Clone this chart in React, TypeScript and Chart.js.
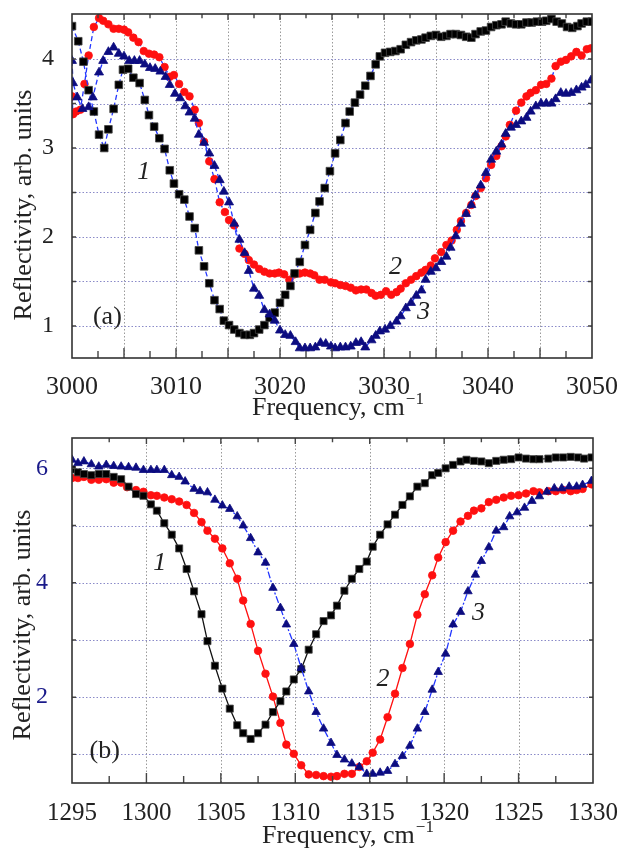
import React, { useEffect, useRef } from "react";
import { Chart, registerables } from "chart.js";

Chart.register(...registerables);

type P = [number, number];

// ---------- Panel (a): 3000–3050 cm^-1 ----------
const seriesA1: P[] = [
  [3000.0,4.37],[3000.6,4.20],[3001.1,3.97],[3001.6,3.65],[3002.1,3.41],[3002.6,3.15],[3003.1,3.00],[3003.5,3.21],[3004.0,3.44],[3004.5,3.71],
  [3004.9,3.88],[3005.4,3.89],[3005.9,3.79],[3006.5,3.73],[3007.0,3.54],[3007.4,3.37],[3007.9,3.24],[3008.4,3.11],[3008.9,2.99],[3009.4,2.75],
  [3009.8,2.60],[3010.3,2.48],[3010.8,2.42],[3011.3,2.23],[3011.8,2.10],[3012.2,1.85],[3012.7,1.67],[3013.2,1.48],[3013.7,1.29],[3014.2,1.19],
  [3014.6,1.06],[3015.1,1.01],[3015.6,0.96],[3016.1,0.92],[3016.6,0.90],[3017.1,0.90],[3017.5,0.92],[3018.0,0.96],[3018.5,1.01],[3019.0,1.09],
  [3019.5,1.15],[3020.0,1.26],[3020.5,1.35],[3021.0,1.45],[3021.4,1.59],[3021.9,1.72],[3022.4,1.91],[3022.9,2.08],[3023.4,2.27],[3023.8,2.40],
  [3024.3,2.55],[3024.8,2.74],[3025.3,2.94],[3025.8,3.09],[3026.3,3.28],[3026.7,3.41],[3027.2,3.51],[3027.7,3.60],[3028.2,3.70],[3028.7,3.81],
  [3029.2,3.94],[3029.6,4.03],[3030.1,4.07],[3030.6,4.08],[3031.1,4.09],[3031.6,4.11],[3032.1,4.16],[3032.6,4.19],[3033.1,4.21],[3033.6,4.22],
  [3034.0,4.24],[3034.5,4.26],[3035.0,4.27],[3035.5,4.25],[3036.0,4.26],[3036.4,4.28],[3036.9,4.28],[3037.4,4.27],[3037.9,4.25],[3038.4,4.24],
  [3038.8,4.28],[3039.3,4.31],[3039.8,4.32],[3040.3,4.36],[3040.8,4.38],[3041.3,4.39],[3041.7,4.42],[3042.2,4.40],[3042.7,4.39],[3043.2,4.39],
  [3043.7,4.41],[3044.2,4.41],[3044.7,4.42],[3045.2,4.42],[3045.6,4.43],[3046.1,4.45],[3046.6,4.42],[3047.1,4.40],[3047.6,4.36],[3048.1,4.35],
  [3048.6,4.37],[3049.0,4.40],[3049.5,4.42],[3050.0,4.42],
];
const seriesA2: P[] = [
  [3000.0,3.58],[3000.1,3.38],[3000.4,3.41],[3000.8,3.43],[3001.2,3.72],[3001.6,4.04],[3002.1,4.36],[3002.6,4.46],[3003.0,4.43],[3003.5,4.39],
  [3004.0,4.34],[3004.5,4.34],[3005.0,4.33],[3005.4,4.30],[3005.9,4.24],[3006.4,4.19],[3006.9,4.09],[3007.4,4.06],[3007.9,4.05],[3008.4,4.02],
  [3008.9,3.91],[3009.4,3.80],[3009.8,3.82],[3010.3,3.72],[3010.8,3.63],[3011.3,3.58],[3011.8,3.43],[3012.2,3.28],[3012.7,3.07],[3013.2,2.85],
  [3013.7,2.65],[3014.2,2.39],[3014.7,2.28],[3015.1,2.19],[3015.6,2.13],[3016.1,1.87],[3016.6,1.81],[3017.0,1.74],[3017.5,1.69],[3018.0,1.64],
  [3018.5,1.61],[3019.0,1.59],[3019.5,1.59],[3019.9,1.60],[3020.4,1.58],[3020.9,1.52],[3021.4,1.58],[3021.9,1.59],[3022.4,1.60],[3022.9,1.59],
  [3023.3,1.57],[3023.8,1.52],[3024.3,1.52],[3024.9,1.49],[3025.3,1.48],[3025.8,1.46],[3026.3,1.45],[3026.8,1.43],[3027.3,1.40],[3027.8,1.41],
  [3028.3,1.41],[3028.8,1.37],[3029.2,1.34],[3029.7,1.35],[3030.2,1.39],[3030.7,1.35],[3031.2,1.38],[3031.6,1.42],[3032.1,1.48],[3032.6,1.52],
  [3033.1,1.56],[3033.6,1.60],[3034.0,1.63],[3034.5,1.68],[3034.9,1.76],[3035.5,1.83],[3036.0,1.91],[3036.5,1.96],[3037.0,2.08],[3037.4,2.18],
  [3037.9,2.27],[3038.4,2.36],[3038.8,2.46],[3039.3,2.55],[3039.8,2.66],[3040.3,2.81],[3040.8,2.91],[3041.3,3.02],[3041.7,3.13],[3042.1,3.26],
  [3042.7,3.42],[3043.2,3.51],[3043.7,3.58],[3044.1,3.62],[3044.6,3.65],[3045.1,3.71],[3045.6,3.72],[3046.1,3.78],[3046.5,3.92],[3047.0,3.97],
  [3047.5,3.99],[3048.0,4.03],[3048.5,4.08],[3049.0,4.04],[3049.5,4.11],[3049.9,4.12],
];
const seriesA3: P[] = [
  [3000.0,3.98],[3000.1,3.73],[3000.5,3.57],[3001.0,3.44],[3001.6,3.46],[3002.0,3.57],[3002.6,3.85],[3003.0,3.98],[3003.5,4.08],[3004.0,4.13],
  [3004.5,4.06],[3005.0,4.03],[3005.5,3.98],[3006.0,3.98],[3006.5,3.98],[3007.0,3.94],[3007.5,3.90],[3008.0,3.89],[3008.5,3.86],[3009.0,3.80],
  [3009.4,3.71],[3009.9,3.61],[3010.4,3.56],[3010.9,3.47],[3011.3,3.40],[3011.8,3.33],[3012.2,3.15],[3012.7,3.06],[3013.2,2.94],[3013.7,2.80],
  [3014.2,2.64],[3014.6,2.51],[3015.1,2.39],[3015.6,2.15],[3016.1,1.97],[3016.6,1.82],[3017.0,1.62],[3017.5,1.42],[3018.0,1.34],[3018.5,1.18],
  [3019.0,1.13],[3019.5,1.06],[3020.0,0.95],[3020.5,0.90],[3021.0,0.89],[3021.5,0.82],[3021.9,0.75],[3022.4,0.75],[3022.9,0.75],[3023.4,0.76],
  [3023.9,0.81],[3024.4,0.80],[3024.9,0.77],[3025.3,0.75],[3025.8,0.76],[3026.3,0.76],[3026.8,0.77],[3027.3,0.81],[3027.8,0.82],[3028.2,0.76],
  [3028.8,0.84],[3029.2,0.89],[3029.6,0.94],[3030.1,0.96],[3030.6,1.00],[3031.2,1.05],[3031.6,1.11],[3032.1,1.20],[3032.6,1.26],[3033.1,1.34],
  [3033.6,1.40],[3034.0,1.52],[3034.5,1.61],[3035.0,1.65],[3035.5,1.72],[3036.0,1.78],[3036.4,1.88],[3036.9,2.01],[3037.4,2.15],[3037.9,2.26],
  [3038.4,2.36],[3038.8,2.47],[3039.3,2.58],[3039.8,2.72],[3040.3,2.87],[3040.8,2.96],[3041.3,3.04],[3041.7,3.16],[3042.2,3.23],[3042.7,3.26],
  [3043.2,3.30],[3043.7,3.34],[3044.1,3.41],[3044.6,3.47],[3045.1,3.50],[3045.6,3.50],[3046.1,3.50],[3046.5,3.55],[3047.0,3.62],[3047.5,3.61],
  [3048.0,3.62],[3048.5,3.65],[3049.0,3.68],[3049.4,3.71],[3049.9,3.76],
];
const xLabelTicksA = [3000, 3010, 3020, 3030, 3040, 3050];
const xGridA = [3005, 3010, 3015, 3020, 3025, 3030, 3035, 3040, 3045];
const xMinorA = [3002.5, 3005, 3007.5, 3010, 3012.5, 3015, 3017.5, 3020, 3022.5, 3025, 3027.5, 3030, 3032.5, 3035, 3037.5, 3040, 3042.5, 3045, 3047.5];
const yLabelTicksA = [1, 2, 3, 4];
const yGridA = [1, 1.5, 2, 2.5, 3, 3.5, 4];
const notesA = [
  { text: "1", x: 3006.9, y: 2.73, italic: true },
  { text: "2", x: 3031.1, y: 1.66, italic: true },
  { text: "3", x: 3033.8, y: 1.15, italic: true },
  { text: "(a)", x: 3003.4, y: 1.1, italic: false },
];

// ---------- Panel (b): 1295–1330 cm^-1 ----------
const seriesB1: P[] = [
  [1295.0,5.98],[1295.4,5.93],[1295.8,5.90],[1296.3,5.88],[1296.8,5.90],[1297.3,5.90],[1297.8,5.85],[1298.3,5.81],[1298.8,5.68],[1299.3,5.55],
  [1299.8,5.52],[1300.3,5.37],[1300.7,5.26],[1301.2,5.04],[1301.7,4.84],[1302.2,4.60],[1302.7,4.24],[1303.2,3.85],[1303.7,3.45],[1304.1,2.98],
  [1304.6,2.55],[1305.1,2.15],[1305.6,1.80],[1306.1,1.51],[1306.5,1.37],[1307.0,1.27],[1307.5,1.37],[1308.0,1.52],[1308.5,1.74],[1309.0,1.93],
  [1309.4,2.10],[1309.9,2.31],[1310.4,2.49],[1310.9,2.83],[1311.4,3.10],[1311.9,3.33],[1312.4,3.43],[1312.8,3.60],[1313.3,3.86],[1313.8,4.07],
  [1314.3,4.24],[1314.8,4.37],[1315.2,4.63],[1315.7,4.84],[1316.2,5.02],[1316.7,5.19],[1317.2,5.36],[1317.7,5.51],[1318.2,5.68],[1318.7,5.74],
  [1319.2,5.88],[1319.6,5.92],[1320.1,6.00],[1320.6,6.06],[1321.1,6.12],[1321.5,6.15],[1322.0,6.13],[1322.5,6.12],[1323.0,6.09],[1323.5,6.13],
  [1324.0,6.15],[1324.5,6.16],[1325.0,6.19],[1325.5,6.17],[1326.0,6.16],[1326.4,6.16],[1327.0,6.17],[1327.5,6.19],[1328.0,6.19],[1328.5,6.20],
  [1329.0,6.19],[1329.4,6.17],[1329.9,6.19],
];
const seriesB2: P[] = [
  [1295.0,5.83],[1295.4,5.83],[1295.8,5.85],[1296.3,5.80],[1296.8,5.80],[1297.3,5.81],[1297.8,5.75],[1298.3,5.75],[1298.7,5.67],[1299.3,5.62],
  [1299.8,5.59],[1300.3,5.53],[1300.7,5.52],[1301.2,5.49],[1301.7,5.46],[1302.2,5.42],[1302.7,5.36],[1303.2,5.22],[1303.7,5.06],[1304.1,4.91],
  [1304.6,4.77],[1305.1,4.60],[1305.6,4.34],[1306.1,4.07],[1306.5,3.69],[1307.0,3.28],[1307.5,2.81],[1308.0,2.41],[1308.5,2.01],[1309.0,1.55],
  [1309.4,1.17],[1309.9,1.01],[1310.4,0.81],[1310.9,0.65],[1311.4,0.64],[1311.9,0.62],[1312.4,0.61],[1312.8,0.62],[1313.3,0.66],[1313.8,0.66],
  [1314.3,0.78],[1314.8,0.88],[1315.2,1.03],[1315.7,1.26],[1316.2,1.65],[1316.7,2.06],[1317.2,2.51],[1317.7,2.93],[1318.2,3.44],[1318.7,3.80],
  [1319.2,4.13],[1319.6,4.44],[1320.1,4.71],[1320.6,4.91],[1321.1,5.07],[1321.6,5.17],[1322.0,5.26],[1322.5,5.30],[1323.0,5.41],[1323.5,5.45],
  [1324.0,5.49],[1324.5,5.52],[1325.0,5.53],[1325.5,5.56],[1326.0,5.60],[1326.4,5.58],[1327.0,5.60],[1327.5,5.60],[1328.0,5.62],[1328.5,5.60],
  [1328.9,5.62],[1329.3,5.64],[1329.9,5.72],
];
const seriesB3: P[] = [
  [1295.0,6.15],[1295.4,6.09],[1295.8,6.12],[1296.3,6.07],[1296.8,6.03],[1297.3,6.06],[1297.8,6.04],[1298.3,6.03],[1298.8,6.02],[1299.3,6.01],
  [1299.8,5.97],[1300.3,5.97],[1300.7,5.97],[1301.2,5.97],[1301.7,5.88],[1302.2,5.85],[1302.6,5.77],[1303.2,5.64],[1303.6,5.60],[1304.1,5.58],
  [1304.6,5.45],[1305.1,5.35],[1305.6,5.29],[1306.1,5.16],[1306.5,5.00],[1307.0,4.78],[1307.5,4.53],[1308.0,4.35],[1308.5,3.91],[1309.0,3.56],
  [1309.4,3.27],[1309.9,2.93],[1310.4,2.51],[1310.9,2.10],[1311.4,1.74],[1311.9,1.45],[1312.4,1.20],[1312.8,0.99],[1313.3,0.91],[1313.8,0.84],
  [1314.3,0.78],[1314.8,0.66],[1315.2,0.66],[1315.7,0.68],[1316.2,0.71],[1316.7,0.83],[1317.2,0.97],[1317.7,1.15],[1318.2,1.45],[1318.7,1.74],
  [1319.2,2.13],[1319.6,2.44],[1320.1,2.76],[1320.6,3.27],[1321.1,3.49],[1321.6,3.85],[1322.1,4.14],[1322.5,4.38],[1323.0,4.62],[1323.5,4.91],
  [1324.0,4.97],[1324.4,5.16],[1324.9,5.23],[1325.4,5.31],[1325.9,5.43],[1326.4,5.51],[1326.9,5.59],[1327.4,5.65],[1327.9,5.65],[1328.4,5.68],
  [1328.9,5.68],[1329.3,5.71],[1329.9,5.78],
];
const xLabelTicksB = [1295, 1300, 1305, 1310, 1315, 1320, 1325, 1330];
const xGridB = [1300, 1305, 1310, 1315, 1320, 1325];
const xMinorB = [1297.5, 1300, 1302.5, 1305, 1307.5, 1310, 1312.5, 1315, 1317.5, 1320, 1322.5, 1325, 1327.5];
const yLabelTicksB = [2, 4, 6];
const yGridB = [1, 2, 3, 4, 5, 6];
const notesB = [
  { text: "1", x: 1300.9, y: 4.34, italic: true },
  { text: "2", x: 1315.9, y: 2.31, italic: true },
  { text: "3", x: 1322.3, y: 3.47, italic: true },
  { text: "(b)", x: 1297.2, y: 1.05, italic: false },
];

const SERIF = '"Liberation Serif", "Times New Roman", serif';

interface SeriesSpec {
  data: P[];
  style: "rect" | "circle" | "triangle";
  fill: string;
  stroke: string;
  radius: number;
  line: string;
  dash: number[];
}

interface PanelSpec {
  width: number;
  height: number;
  areaTop: number;
  areaBottom: number;
  areaLeft: number;
  areaRight: number;
  xMin: number; xMax: number; yMin: number; yMax: number;
  series: SeriesSpec[];
  xLabelTicks: number[]; xGrid: number[]; xMinor: number[];
  yLabelTicks: number[]; yGrid: number[];
  notes: { text: string; x: number; y: number; italic: boolean }[];
  xTickFont: number; yTickFont: number; yTickColor: string; yPad: number; xPad: number;
  xTitleX: number; xTitleBase: number; yTitleX: number; yTitleY: number;
}

function buildChart(canvas: HTMLCanvasElement, p: PanelSpec) {
  const decor = {
    id: "decor",
    beforeDatasetsDraw(chart: any) {
      const { ctx, chartArea: a, scales } = chart;
      const xs = scales.x, ys = scales.y;
      ctx.save();
      ctx.lineWidth = 1;
      ctx.setLineDash([1.5, 2]);
      ctx.strokeStyle = "#9a9a9a";
      for (const v of p.xGrid) {
        const px = Math.round(xs.getPixelForValue(v)) + 0.5;
        ctx.beginPath(); ctx.moveTo(px, a.top); ctx.lineTo(px, a.bottom); ctx.stroke();
      }
      ctx.strokeStyle = "#8a8ac8";
      for (const v of p.yGrid) {
        const py = Math.round(ys.getPixelForValue(v)) + 0.5;
        ctx.beginPath(); ctx.moveTo(a.left, py); ctx.lineTo(a.right, py); ctx.stroke();
      }
      ctx.restore();
    },
    afterDraw(chart: any) {
      const { ctx, chartArea: a, scales } = chart;
      const xs = scales.x, ys = scales.y;
      ctx.save();
      ctx.setLineDash([]);
      ctx.strokeStyle = "#444";
      ctx.lineWidth = 1.4;
      for (const v of p.xMinor) {
        const px = xs.getPixelForValue(v);
        const len = p.xGrid.includes(v) ? 10 : 7;
        ctx.beginPath();
        ctx.moveTo(px, a.bottom); ctx.lineTo(px, a.bottom - len);
        ctx.moveTo(px, a.top); ctx.lineTo(px, a.top + len * 0.6);
        ctx.stroke();
      }
      for (const v of p.yGrid) {
        const py = ys.getPixelForValue(v);
        ctx.beginPath();
        ctx.moveTo(a.left, py); ctx.lineTo(a.left + 4, py);
        ctx.moveTo(a.right, py); ctx.lineTo(a.right - 4, py);
        ctx.stroke();
      }
      ctx.strokeStyle = "#333";
      ctx.lineWidth = 1.6;
      ctx.strokeRect(a.left, a.top, a.right - a.left, a.bottom - a.top);
      ctx.fillStyle = "#222";
      ctx.textAlign = "center";
      ctx.textBaseline = "middle";
      for (const n of p.notes) {
        ctx.font = `${n.italic ? "italic " : ""}26px ${SERIF}`;
        ctx.fillText(n.text, xs.getPixelForValue(n.x), ys.getPixelForValue(n.y));
      }
      ctx.textAlign = "left";
      ctx.textBaseline = "alphabetic";
      ctx.font = `26px ${SERIF}`;
      const main = "Frequency, cm";
      ctx.fillText(main, p.xTitleX, p.xTitleBase);
      const w = ctx.measureText(main).width;
      ctx.font = `17px ${SERIF}`;
      ctx.fillText("\u22121", p.xTitleX + w + 1, p.xTitleBase - 11);
      ctx.translate(p.yTitleX, p.yTitleY);
      ctx.rotate(-Math.PI / 2);
      ctx.font = `26px ${SERIF}`;
      ctx.textAlign = "center";
      ctx.textBaseline = "middle";
      ctx.fillText("Reflectivity, arb. units", 0, 0);
      ctx.restore();
    },
  };

  return new Chart(canvas, {
    type: "scatter",
    data: {
      datasets: p.series.map((s) => ({
        data: s.data.map(([x, y]) => ({ x, y })),
        showLine: true,
        borderColor: s.line,
        borderWidth: 1.3,
        borderDash: s.dash,
        pointStyle: s.style,
        pointRadius: s.radius,
        pointBackgroundColor: s.fill,
        pointBorderColor: s.stroke,
        pointBorderWidth: 0.8,
        tension: 0,
      })),
    },
    options: {
      responsive: false,
      animation: false,
      devicePixelRatio: 1,
      events: [],
      layout: {
        padding: { left: 0, top: p.areaTop, right: p.width - p.areaRight, bottom: 0 },
      },
      plugins: { legend: { display: false }, tooltip: { enabled: false } },
      scales: {
        x: {
          type: "linear",
          min: p.xMin,
          max: p.xMax,
          grid: { display: false },
          border: { display: false },
          afterBuildTicks: (s: any) => { s.ticks = p.xLabelTicks.map((v) => ({ value: v })); },
          afterFit: (s: any) => {
            s.height = p.height - p.areaBottom;
            s.paddingLeft = 0; s.paddingRight = 0; s.paddingTop = 0; s.paddingBottom = 0;
          },
          ticks: {
            autoSkip: false,
            maxRotation: 0,
            padding: p.xPad,
            color: "#222",
            font: { family: SERIF, size: p.xTickFont },
            callback: (v: any) => String(v),
          },
        },
        y: {
          type: "linear",
          min: p.yMin,
          max: p.yMax,
          grid: { display: false },
          border: { display: false },
          afterBuildTicks: (s: any) => { s.ticks = p.yLabelTicks.map((v) => ({ value: v })); },
          afterFit: (s: any) => {
            s.width = p.areaLeft;
            s.paddingLeft = 0; s.paddingRight = 0; s.paddingTop = 0; s.paddingBottom = 0;
          },
          ticks: {
            padding: p.yPad,
            color: p.yTickColor,
            font: { family: SERIF, size: p.yTickFont },
            callback: (v: any) => String(v),
          },
        },
      },
    },
    plugins: [decor],
  } as any);
}

const LINE_BLUE = "#2236ff";
const NAVY = "#0c0c80";

const panelA: PanelSpec = {
  width: 629, height: 428,
  areaTop: 14, areaBottom: 358, areaLeft: 72, areaRight: 592,
  xMin: 3000, xMax: 3050, yMin: 0.64, yMax: 4.506,
  series: [
    { data: seriesA3, style: "triangle", fill: NAVY, stroke: NAVY, radius: 5.2, line: LINE_BLUE, dash: [5, 3] },
    { data: seriesA1, style: "rect", fill: "#000", stroke: "#444", radius: 5.4, line: LINE_BLUE, dash: [5, 3] },
    { data: seriesA2, style: "circle", fill: "#ff1010", stroke: "#ff1010", radius: 3.8, line: LINE_BLUE, dash: [5, 3] },
  ],
  xLabelTicks: xLabelTicksA, xGrid: xGridA, xMinor: xMinorA,
  yLabelTicks: yLabelTicksA, yGrid: yGridA, notes: notesA,
  xTickFont: 26, yTickFont: 24, yTickColor: "#222", yPad: 10, xPad: 6,
  xTitleX: 252, xTitleBase: 415, yTitleX: 24, yTitleY: 205,
};

const panelB: PanelSpec = {
  width: 629, height: 424,
  areaTop: 10, areaBottom: 355, areaLeft: 72, areaRight: 593,
  xMin: 1295, xMax: 1330, yMin: 0.5, yMax: 6.53,
  series: [
    { data: seriesB3, style: "triangle", fill: NAVY, stroke: NAVY, radius: 4.9, line: LINE_BLUE, dash: [7, 2, 2, 2] },
    { data: seriesB1, style: "rect", fill: "#000", stroke: "#444", radius: 5.0, line: "#111", dash: [] },
    { data: seriesB2, style: "circle", fill: "#ff1010", stroke: "#ff1010", radius: 3.8, line: "#ff1010", dash: [] },
  ],
  xLabelTicks: xLabelTicksB, xGrid: xGridB, xMinor: xMinorB,
  yLabelTicks: yLabelTicksB, yGrid: yGridB, notes: notesB,
  xTickFont: 25, yTickFont: 24, yTickColor: "#1a1a8a", yPad: 16, xPad: 7,
  xTitleX: 262, xTitleBase: 415, yTitleX: 23, yTitleY: 197,
};

function Panel({ spec, top }: { spec: PanelSpec; top: number }) {
  const ref = useRef<HTMLCanvasElement | null>(null);
  useEffect(() => {
    if (!ref.current) return;
    const chart = buildChart(ref.current, spec);
    return () => chart.destroy();
  }, [spec]);
  return (
    <canvas
      ref={ref}
      width={spec.width}
      height={spec.height}
      style={{ position: "absolute", left: 0, top, width: spec.width, height: spec.height }}
    />
  );
}

export default function App() {
  return (
    <div style={{ position: "absolute", left: 0, top: 0, width: 629, height: 852, background: "#fff" }}>
      <Panel spec={panelA} top={0} />
      <Panel spec={panelB} top={428} />
    </div>
  );
}
